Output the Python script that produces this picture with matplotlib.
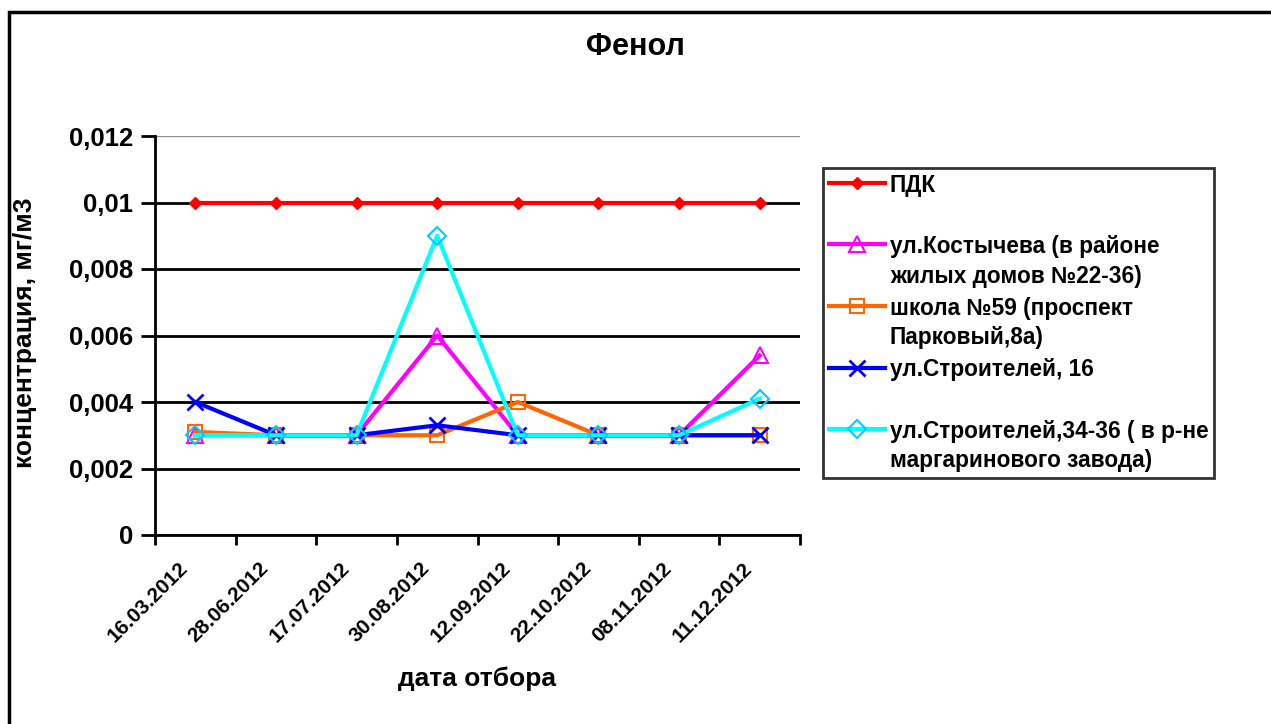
import matplotlib
matplotlib.use('Agg')
import matplotlib.pyplot as plt
from matplotlib.patches import Rectangle
from matplotlib.lines import Line2D
from matplotlib.legend_handler import HandlerLine2D
from matplotlib.transforms import Affine2D

plt.rcParams['font.family'] = ['Liberation Sans', 'DejaVu Sans']
plt.rcParams['font.weight'] = 'bold'

# data
dates = ['16.03.2012', '28.06.2012', '17.07.2012', '30.08.2012',
         '12.09.2012', '22.10.2012', '08.11.2012', '11.12.2012']
pdk = [0.01, 0.01, 0.01, 0.01, 0.01, 0.01, 0.01, 0.01]
kostycheva = [0.003, 0.003, 0.003, 0.006, 0.003, 0.003, 0.003, 0.0054]
school59 = [0.0031, 0.003, 0.003, 0.003, 0.004, 0.003, 0.003, 0.003]
stroit16 = [0.004, 0.003, 0.003, 0.0033, 0.003, 0.003, 0.003, 0.003]
stroit34 = [0.003, 0.003, 0.003, 0.009, 0.003, 0.003, 0.003, 0.0041]

labels = ['ПДК\n',
          'ул.Костычева (в районе\nжилых домов №22-36)',
          'школа №59 (проспект\nПарковый,8а)',
          'ул.Строителей, 16\n',
          'ул.Строителей,34-36 ( в р-не\nмаргаринового завода)']
yticks = [0, 0.002, 0.004, 0.006, 0.008, 0.01, 0.012]
ytick_labels = ['0', '0,002', '0,004', '0,006', '0,008', '0,01', '0,012']


class FirstLineHandler(HandlerLine2D):
    # put the legend sample next to the first line of a two-line label
    def create_artists(self, legend, orig_handle, xdescent, ydescent,
                       width, height, fontsize, trans):
        shift = Affine2D().translate(0, 13.0)
        return super().create_artists(legend, orig_handle, xdescent, ydescent,
                                      width, height, fontsize, shift + trans)


fig = plt.figure(figsize=(12.71, 7.24), dpi=100)
ax = fig.add_axes([155 / 1271, 1 - 535 / 724, 645 / 1271, 399 / 724])

x = list(range(len(dates)))
ax.plot(x, pdk, color='#FF0000', lw=3, marker='D', ms=6, mfc='#FF0000',
        mec='#FF0000', label=labels[0])
ax.plot(x, kostycheva, color='#FF00FF', lw=3, marker='^', ms=11, mfc='none',
        mec='#FF00FF', mew=1.5, label=labels[1])
ax.plot(x, school59, color='#FF6600', lw=3, marker='s', ms=10, mfc='none',
        mec='#FF6600', mew=1.5, label=labels[2])
ax.plot(x, stroit16, color='#0000FF', lw=3, marker='x', ms=11,
        mec='#0000FF', mew=2, label=labels[3])
ax.plot(x, stroit34, color='#00FFFF', lw=3, marker='D', ms=9, mfc='none',
        mec='#00CCFF', mew=1.5, label=labels[4])

ax.set_xlim(-0.5, len(dates) - 0.5)
ax.set_ylim(0, 0.012)
ax.set_yticks(yticks)
ax.set_yticklabels(ytick_labels, fontsize=18.5, fontweight='bold')
# category boundaries carry the tick marks, labels sit a bit left of centre
ax.set_xticks([i - 0.5 for i in range(len(dates) + 1)])
ax.set_xticklabels([])
ax.set_xticks([i - 0.21 for i in x], minor=True)
ax.set_xticklabels(dates, minor=True, rotation=45, ha='right',
                   rotation_mode='anchor', fontsize=15, fontweight='bold')
ax.tick_params(axis='x', which='minor', length=0, pad=17)
ax.tick_params(axis='x', which='major', direction='out', length=7, width=2)
ax.tick_params(axis='y', direction='out', length=10, width=2, pad=6)
ax.grid(axis='y', color='black', lw=2)
ax.yaxis.get_gridlines()[-1].set(color='#909090', lw=1)
ax.set_axisbelow(True)
for s in ['top', 'right']:
    ax.spines[s].set_visible(False)
ax.spines['left'].set_linewidth(2)
ax.spines['bottom'].set_linewidth(2)

fig.text(25 / 1271, 1 - 333 / 724, 'концентрация, мг/м3', rotation=90,
         ha='center', va='center', fontsize=19, fontweight='bold')
fig.text(477 / 1271, 1 - 679 / 724, 'дата отбора', ha='center', va='center',
         fontsize=19, fontweight='bold')
fig.text(0.5, 1 - 47 / 724, 'Фенол', ha='center', va='center',
         fontsize=22, fontweight='bold')

leg = fig.legend(handler_map={Line2D: FirstLineHandler()},
                 loc='upper left', bbox_to_anchor=(823 / 1271, 1 - 168 / 724),
                 prop={'size': 16.3, 'weight': 'bold'}, frameon=True,
                 fancybox=False, edgecolor='black', handlelength=2.5,
                 handletextpad=0.2, labelspacing=0.4, borderaxespad=0,
                 borderpad=0.25)
leg.get_frame().set_linewidth(2)
for t in leg.get_texts():
    t.set_linespacing(1.36)

# outer chart border (right and bottom sides fall outside the image)
fig.patches.append(Rectangle((9 / 1271, -0.1), 1.2, 1 - 12 / 724 + 0.1,
                             transform=fig.transFigure, fill=False,
                             edgecolor='black', lw=2.5))

fig.savefig('out.png', dpi=100)
